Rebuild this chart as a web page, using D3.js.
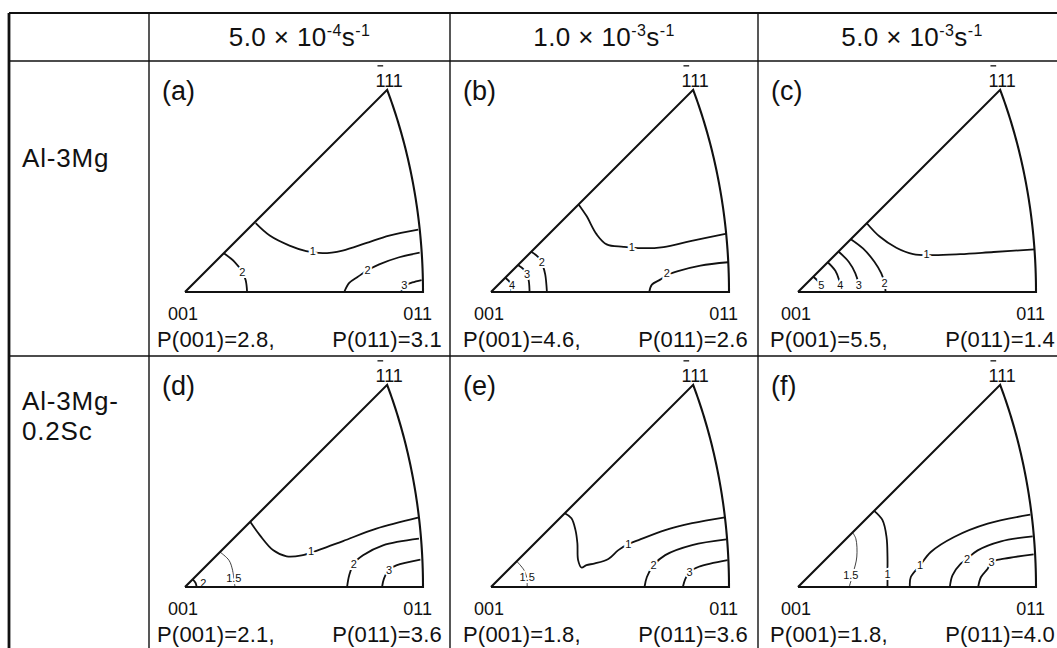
<!DOCTYPE html>
<html>
<head>
<meta charset="utf-8">
<script src="https://cdn.jsdelivr.net/npm/d3@7"></script>
<style>
  body { margin: 0; background: #fff; }
  svg { display: block; font-family: "Liberation Sans", Arial, sans-serif; }
</style>
</head>
<body>
<svg width="1057" height="648"></svg>
<script>
// ---- data ----
var rateMantissa = ["5.0", "1.0", "5.0"];
var rateExponent = ["-4", "-3", "-3"];
var alloyLines = [["Al-3Mg"], ["Al-3Mg-", "0.2Sc"]];
var panelLetters = ["a", "b", "c", "d", "e", "f"];
var p001 = [2.8, 4.6, 5.5, 2.1, 1.8, 1.8];
var p011 = [3.1, 2.6, 1.4, 3.6, 3.6, 4.0];

// contours: u along 001->011 (011 = 1), v upward, same unit
var contoursA = [
  {lab: "1", at: [0.537, 0.172], pts: [[0.297,0.289],[0.356,0.237],[0.439,0.195],[0.509,0.172],[0.579,0.163],[0.662,0.174],[0.760,0.205],[0.858,0.237],[0.980,0.262]]},
  {lab: "2", at: [0.767, 0.091], pts: [[0.669,0],[0.690,0.038],[0.725,0.063],[0.767,0.091],[0.816,0.116],[0.900,0.146],[0.986,0.165]]},
  {lab: "3", at: [0.921, 0.028], pts: [[0.907,0],[0.916,0.014],[0.930,0.030],[0.955,0.040],[0.994,0.050]]},
  {lab: "2", at: [0.241, 0.086], pts: [[0.163,0.163],[0.209,0.126],[0.241,0.084],[0.255,0.049],[0.261,0]]}
];
var contoursB = [
  {lab: "1", at: [0.592, 0.190], pts: [[0.368,0.368],[0.401,0.320],[0.444,0.242],[0.486,0.200],[0.556,0.190],[0.634,0.184],[0.725,0.189],[0.838,0.214],[0.990,0.245]]},
  {lab: "2", at: [0.739, 0.079], pts: [[0.665,0],[0.676,0.031],[0.711,0.052],[0.739,0.072],[0.782,0.087],[0.880,0.111],[0.996,0.125]]},
  {lab: "2", at: [0.214, 0.128], pts: [[0.169,0.169],[0.201,0.144],[0.218,0.110],[0.228,0.073],[0.235,0]]},
  {lab: "3", at: [0.151, 0.076], pts: [[0.113,0.113],[0.136,0.096],[0.151,0.076],[0.159,0.045],[0.162,0]]},
  {lab: "4", at: [0.088, 0.030], pts: [[0.060,0.060],[0.076,0.045],[0.085,0.025],[0.085,0]]}
];
var contoursC = [
  {lab: "1", at: [0.540, 0.159], pts: [[0.289,0.289],[0.343,0.233],[0.413,0.186],[0.484,0.159],[0.568,0.155],[0.681,0.159],[0.822,0.168],[0.994,0.179]]},
  {lab: "2", at: [0.364, 0.036], pts: [[0.222,0.222],[0.273,0.183],[0.321,0.127],[0.350,0.078],[0.364,0.036],[0.368,0]]},
  {lab: "3", at: [0.255, 0.030], pts: [[0.170,0.170],[0.213,0.127],[0.241,0.078],[0.254,0.035],[0.258,0]]},
  {lab: "4", at: [0.178, 0.030], pts: [[0.125,0.125],[0.157,0.089],[0.173,0.049],[0.181,0]]},
  {lab: "5", at: [0.098, 0.030], pts: [[0.064,0.064],[0.089,0.038],[0.096,0]]}
];
var contoursD = [
  {lab: "1", at: [0.530, 0.150], pts: [[0.274,0.274],[0.315,0.217],[0.371,0.154],[0.427,0.129],[0.490,0.133],[0.566,0.157],[0.664,0.193],[0.804,0.245],[0.979,0.291]]},
  {lab: "2", at: [0.709, 0.098], pts: [[0.681,0],[0.690,0.049],[0.709,0.098],[0.748,0.133],[0.832,0.175],[0.983,0.203]]},
  {lab: "3", at: [0.857, 0.073], pts: [[0.828,0],[0.836,0.035],[0.857,0.073],[0.888,0.091],[0.989,0.115]]},
  {lab: "1.5", at: [0.205, 0.036], thin: true, pts: [[0.147,0.147],[0.185,0.112],[0.200,0.070],[0.206,0.030],[0.210,0]]},
  {lab: "2", at: [0.077, 0.016], pts: [[0.032,0.032],[0.044,0.018],[0.049,0]]}
];
var contoursE = [
  {lab: "1", at: [0.577, 0.180], pts: [[0.310,0.310],[0.338,0.289],[0.355,0.239],[0.363,0.183],[0.366,0.113],[0.380,0.082],[0.401,0.092],[0.437,0.099],[0.493,0.118],[0.535,0.155],[0.577,0.180],[0.620,0.197],[0.732,0.239],[0.845,0.268],[0.983,0.293]]},
  {lab: "2", at: [0.683, 0.092], pts: [[0.645,0],[0.655,0.042],[0.683,0.092],[0.732,0.134],[0.845,0.176],[0.989,0.200]]},
  {lab: "3", at: [0.834, 0.063], pts: [[0.806,0],[0.817,0.035],[0.834,0.063],[0.873,0.085],[0.994,0.113]]},
  {lab: "1.5", at: [0.152, 0.042], thin: true, pts: [[0.108,0.108],[0.138,0.072],[0.150,0.040],[0.152,0]]}
];
var contoursF = [
  {lab: "1", at: [0.376, 0.056], pts: [[0.320,0.320],[0.355,0.281],[0.372,0.210],[0.376,0.126],[0.376,0.056],[0.376,0]]},
  {lab: "1", at: [0.513, 0.091], pts: [[0.470,0],[0.474,0.042],[0.513,0.091],[0.558,0.147],[0.656,0.210],[0.797,0.266],[0.976,0.304]]},
  {lab: "2", at: [0.710, 0.118], pts: [[0.638,0],[0.649,0.049],[0.684,0.098],[0.710,0.118],[0.755,0.154],[0.853,0.192],[0.986,0.213]]},
  {lab: "3", at: [0.813, 0.105], pts: [[0.757,0],[0.769,0.042],[0.797,0.077],[0.813,0.105],[0.867,0.119],[0.990,0.137]]},
  {lab: "1.5", at: [0.222, 0.050], thin: true, pts: [[0.229,0.229],[0.243,0.203],[0.247,0.126],[0.232,0.060],[0.215,0]]}
];
var contours = [contoursA, contoursB, contoursC, contoursD, contoursE, contoursF];

// ---- layout ----
var svg = d3.select("svg");
var colEdges = [9, 149, 450, 758, 1066],
    tableTop = 13, headerBottom = 61, rowH = 295,
    triOffset = [36, 41, 40], triW = 238;

// equal-area projection of the 011 - 111 great circle, normalised so 011 -> u = 1
var r011 = Math.sqrt(2 * (1 - Math.SQRT1_2));
function arcPoint(s) {
  var cosT = 1 / Math.sqrt(2 + s * s),
      r = Math.sqrt(2 * (1 - cosT)),
      phi = Math.atan(s);
  return [r * Math.cos(phi) / r011, r * Math.sin(phi) / r011];
}
var outline = [[0, 0]].concat(d3.range(0, 1.0001, 0.02).map(arcPoint)).concat([[0, 0]]);
var v111 = arcPoint(1);

// table grid
var grid = svg.append("g").attr("stroke", "#111").attr("fill", "none");
grid.append("line").attr("x1", colEdges[0]).attr("x2", 1066).attr("y1", tableTop).attr("y2", tableTop).attr("stroke-width", 2.2);
grid.append("line").attr("x1", colEdges[0]).attr("x2", colEdges[0]).attr("y1", tableTop).attr("y2", 660).attr("stroke-width", 2.8);
grid.append("line").attr("x1", colEdges[0]).attr("x2", 1066).attr("y1", headerBottom).attr("y2", headerBottom).attr("stroke-width", 1.6);
grid.append("line").attr("x1", colEdges[0]).attr("x2", 1066).attr("y1", headerBottom + rowH).attr("y2", headerBottom + rowH).attr("stroke-width", 1.4);
colEdges.slice(1, 4).forEach(function(x) {
  grid.append("line").attr("x1", x).attr("x2", x).attr("y1", tableTop).attr("y2", 660).attr("stroke-width", 1.4);
});

// header
rateMantissa.forEach(function(m, i) {
  var cx = (colEdges[i + 1] + colEdges[i + 2]) / 2;
  var t = svg.append("text").attr("x", cx).attr("y", 46).attr("text-anchor", "middle")
    .attr("font-size", 26).attr("letter-spacing", 0.4).attr("fill", "#111");
  t.append("tspan").text(m + " \u00d7 10");
  t.append("tspan").attr("dy", -10).attr("font-size", 16).text(rateExponent[i]);
  t.append("tspan").attr("dy", 10).text("s");
  t.append("tspan").attr("dy", -10).attr("font-size", 16).text("-1");
});

// row labels
var rowBaselines = [[167], [410, 440]];
alloyLines.forEach(function(lines, r) {
  lines.forEach(function(s, k) {
    svg.append("text").attr("x", 22).attr("y", rowBaselines[r][k])
      .attr("font-size", 26).attr("letter-spacing", 0.8).attr("fill", "#111").text(s);
  });
});

var line = d3.line().curve(d3.curveCatmullRom.alpha(0.5));

panelLetters.forEach(function(letter, i) {
  var c = i % 3, r = Math.floor(i / 3);
  var colL = colEdges[c + 1], rowT = headerBottom + r * rowH;
  var x0 = colL + triOffset[c], yb = rowT + 231;
  var x = d3.scaleLinear().domain([0, 1]).range([x0, x0 + triW]);
  var y = d3.scaleLinear().domain([0, 1]).range([yb, yb - triW]);
  var g = svg.append("g");
  line.x(function(d) { return x(d[0]); }).y(function(d) { return y(d[1]); });

  // contours
  contours[i].forEach(function(ct) {
    g.append("path").attr("d", line(ct.pts)).attr("fill", "none")
      .attr("stroke", "#111").attr("stroke-width", ct.thin ? 0.8 : 1.8);
  });
  contours[i].forEach(function(ct) {
    g.append("text").attr("x", x(ct.at[0])).attr("y", y(ct.at[1]) + 4)
      .attr("text-anchor", "middle").attr("font-size", 11).attr("fill", "#111")
      .attr("stroke", "#fff").attr("stroke-width", 4).attr("paint-order", "stroke")
      .text(ct.lab);
  });

  // triangle outline
  g.append("path").attr("d", d3.line().x(function(d) { return x(d[0]); }).y(function(d) { return y(d[1]); })(outline))
    .attr("fill", "none").attr("stroke", "#111").attr("stroke-width", 2.1).attr("stroke-linejoin", "miter");

  // labels
  g.append("text").attr("x", colL + 13).attr("y", rowT + 39).attr("font-size", 27)
    .attr("fill", "#111").text("(" + letter + ")");
  var lab111 = g.append("text").attr("x", x(v111[0]) + 2).attr("y", y(v111[1]) - 3)
    .attr("text-anchor", "middle").attr("font-size", 18).attr("fill", "#111").text("111");
  var ext = lab111.node().getExtentOfChar(0);
  g.append("line").attr("x1", ext.x + 2).attr("x2", ext.x + ext.width - 1)
    .attr("y1", y(v111[1]) - 24).attr("y2", y(v111[1]) - 24)
    .attr("stroke", "#111").attr("stroke-width", 1.3);
  g.append("text").attr("x", x(0) - 17).attr("y", yb + 28).attr("font-size", 18)
    .attr("fill", "#111").text("001");
  g.append("text").attr("x", x(1) + 9).attr("y", yb + 28).attr("text-anchor", "end")
    .attr("font-size", 18).attr("fill", "#111").text("011");
  g.append("text").attr("x", x(0) - 28).attr("y", rowT + 286).attr("font-size", 22)
    .attr("letter-spacing", 0.2).attr("fill", "#111").text("P(001)=" + p001[i].toFixed(1) + ",");
  g.append("text").attr("x", x(1) + 19).attr("y", rowT + 286).attr("text-anchor", "end")
    .attr("font-size", 22).attr("letter-spacing", 0.2).attr("fill", "#111").text("P(011)=" + p011[i].toFixed(1));
});
</script>
</body>
</html>
